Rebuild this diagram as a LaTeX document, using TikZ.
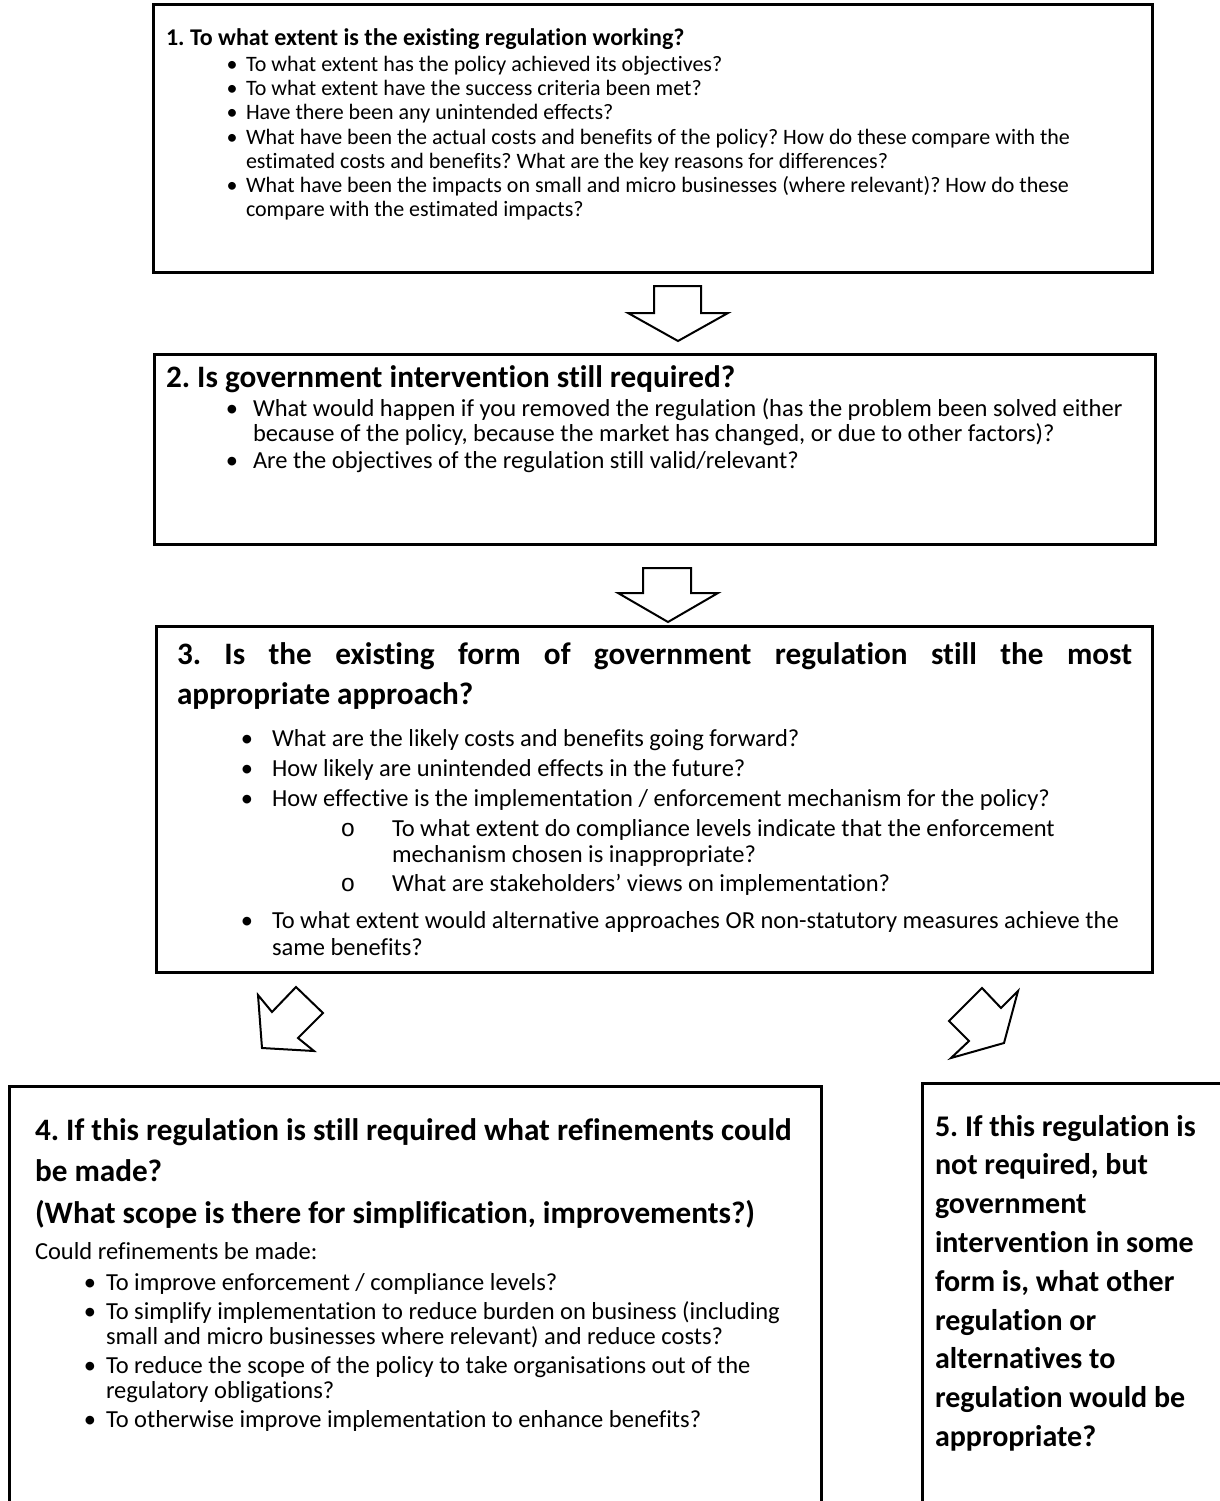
\documentclass[tikz,border=0pt]{standalone}
\usepackage{fontspec}
\setmainfont{Carlito}[Ligatures={NoCommon}]
\newfontfamily\monof{Liberation Mono}
\frenchspacing
\newcommand{\ttlA}{\fontsize{24}{29}\selectfont\bfseries}
\newcommand{\ttlB}{\fontsize{31.2}{38}\selectfont\bfseries}
\newcommand{\ttlC}{\fontsize{30}{37}\selectfont\bfseries}
\newcommand{\bodyA}{\fontsize{22}{25}\selectfont}
\newcommand{\bodyB}{\fontsize{24.5}{30}\selectfont}
\begin{document}
\begin{tikzpicture}[x=1pt,y=-1pt,
  frame/.style={draw=black, line width=3pt, rectangle, anchor=north west, inner sep=0pt, outer sep=0pt},
  txt/.style={anchor=base west, inner sep=0pt, outer sep=0pt},
  dotm/.style={anchor=base, inner sep=0pt, outer sep=0pt},
  blockarrow/.style={draw=black, line width=2pt, fill=white, line join=miter}]
\useasboundingbox (0,0) rectangle (1220,1501);
\clip (0,0) rectangle (1220,1501);
\fill[white] (0,0) rectangle (1220,1501);

% ---------- Box 1 ----------
\node[frame, minimum width=999pt, minimum height=267pt] (b1) at (153,5) {};
\node[txt, font=\ttlA] (t1) at (166,46) {1. To what extent is the existing regulation working?};
\node[dotm, font=\bodyA] (d11) at (232,72) {•};
\node[txt, font=\bodyA] (l11) at (246,72) {To what extent has the policy achieved its objectives?};
\node[dotm, font=\bodyA] (d12) at (232,96) {•};
\node[txt, font=\bodyA] (l12) at (246,96) {To what extent have the success criteria been met?};
\node[dotm, font=\bodyA] (d13) at (232,120) {•};
\node[txt, font=\bodyA] (l13) at (246,120) {Have there been any unintended effects?};
\node[dotm, font=\bodyA] (d14) at (232,144) {•};
\node[txt, font=\bodyA] (l14) at (246,144) {What have been the actual costs and benefits of the policy? How do these compare with the};
\node[txt, font=\bodyA] (l15) at (246,168) {estimated costs and benefits? What are the key reasons for differences?};
\node[dotm, font=\bodyA] (d16) at (232,192) {•};
\node[txt, font=\bodyA] (l16) at (246,192) {What have been the impacts on small and micro businesses (where relevant)? How do these};
\node[txt, font=\bodyA] (l17) at (246,216) {compare with the estimated impacts?};

% arrow 1
\draw[blockarrow] (654,286) -- (701,286) -- (701,313) -- (728,313) -- (678,341) -- (628,313) -- (654,313) -- cycle;

% ---------- Box 2 ----------
\node[frame, minimum width=1001pt, minimum height=190pt] (b2) at (154,354) {};
\node[txt, font=\ttlB] (t2) at (166,387) {2. Is government intervention still required?};
\node[dotm, font=\bodyB] (d21) at (232,416) {•};
\node[txt, font=\bodyB] (l21) at (253,416) {What would happen if you removed the regulation (has the problem been solved either};
\node[txt, font=\bodyB] (l22) at (253,441) {because of the policy, because the market has changed, or due to other factors)?};
\node[dotm, font=\bodyB] (d23) at (232,468) {•};
\node[txt, font=\bodyB] (l23) at (253,468) {Are the objectives of the regulation still valid/relevant?};

% arrow 2
\draw[blockarrow] (643,568) -- (691,568) -- (691,593) -- (718,593) -- (668,622) -- (618,593) -- (643,593) -- cycle;

% ---------- Box 3 ----------
\node[frame, minimum width=996pt, minimum height=346pt] (b3) at (156,626) {};
\node[txt, font=\ttlB] (t31) at (177,664) {\makebox[955pt][s]{3. Is the existing form of government regulation still the most}};
\node[txt, font=\ttlB] (t32) at (177,704) {appropriate approach?};
\node[dotm, font=\bodyB] (d31) at (247,746) {•};
\node[txt, font=\bodyB] (l31) at (272,746) {What are the likely costs and benefits going forward?};
\node[dotm, font=\bodyB] (d32) at (247,776) {•};
\node[txt, font=\bodyB] (l32) at (272,776) {How likely are unintended effects in the future?};
\node[dotm, font=\bodyB] (d33) at (247,806) {•};
\node[txt, font=\bodyB] (l33) at (272,806) {How effective is the implementation / enforcement mechanism for the policy?};
\node[dotm, font={\bodyB\monof}] (d34) at (348,836) {o};
\node[txt, font=\bodyB] (l34) at (392,836) {To what extent do compliance levels indicate that the enforcement};
\node[txt, font=\bodyB] (l35) at (392,862) {mechanism chosen is inappropriate?};
\node[dotm, font={\bodyB\monof}] (d36) at (348,891) {o};
\node[txt, font=\bodyB] (l36) at (392,891) {What are stakeholders’ views on implementation?};
\node[dotm, font=\bodyB] (d37) at (247,928) {•};
\node[txt, font=\bodyB] (l37) at (272,928) {To what extent would alternative approaches OR non-statutory measures achieve the};
\node[txt, font=\bodyB] (l38) at (272,955) {same benefits?};

% arrows 3 and 4
\draw[blockarrow] (258,995) -- (272,1012) -- (296,987) -- (323,1013) -- (298,1038) -- (314,1051) -- (262,1048) -- cycle;
\draw[blockarrow] (982,988) -- (1001,1008) -- (1018,991) -- (1004,1043) -- (951,1058) -- (969,1041) -- (949,1021) -- cycle;

% ---------- Box 4 ----------
\node[frame, minimum width=812pt, minimum height=440pt] (b4) at (9,1086) {};
\node[txt, font=\ttlB] (t41) at (35,1140) {4. If this regulation is still required what refinements could};
\node[txt, font=\ttlB] (t42) at (35,1181) {be made?};
\node[txt, font=\ttlB] (t43) at (35,1223) {(What scope is there for simplification, improvements?)};
\node[txt, font=\bodyB] (l40) at (35,1259) {Could refinements be made:};
\node[dotm, font=\bodyB] (d41) at (90,1290) {•};
\node[txt, font=\bodyB] (l41) at (106,1290) {To improve enforcement / compliance levels?};
\node[dotm, font=\bodyB] (d42) at (90,1319) {•};
\node[txt, font=\bodyB] (l42) at (106,1319) {To simplify implementation to reduce burden on business (including};
\node[txt, font=\bodyB] (l43) at (106,1344) {small and micro businesses where relevant) and reduce costs?};
\node[dotm, font=\bodyB] (d44) at (90,1373) {•};
\node[txt, font=\bodyB] (l44) at (106,1373) {To reduce the scope of the policy to take organisations out of the};
\node[txt, font=\bodyB] (l45) at (106,1398) {regulatory obligations?};
\node[dotm, font=\bodyB] (d46) at (90,1427) {•};
\node[txt, font=\bodyB] (l46) at (106,1427) {To otherwise improve implementation to enhance benefits?};

% ---------- Box 5 ----------
\node[frame, minimum width=330pt, minimum height=440pt] (b5) at (922,1083) {};
\node[txt, font=\ttlC] (t51) at (935,1136) {5. If this regulation is};
\node[txt, font=\ttlC] (t52) at (935,1174.8) {not required, but};
\node[txt, font=\ttlC] (t53) at (935,1213.6) {government};
\node[txt, font=\ttlC] (t54) at (935,1252.4) {intervention in some};
\node[txt, font=\ttlC] (t55) at (935,1291.2) {form is, what other};
\node[txt, font=\ttlC] (t56) at (935,1330) {regulation or};
\node[txt, font=\ttlC] (t57) at (935,1368.8) {alternatives to};
\node[txt, font=\ttlC] (t58) at (935,1407.6) {regulation would be};
\node[txt, font=\ttlC] (t59) at (935,1446.4) {appropriate?};
\end{tikzpicture}
\end{document}
